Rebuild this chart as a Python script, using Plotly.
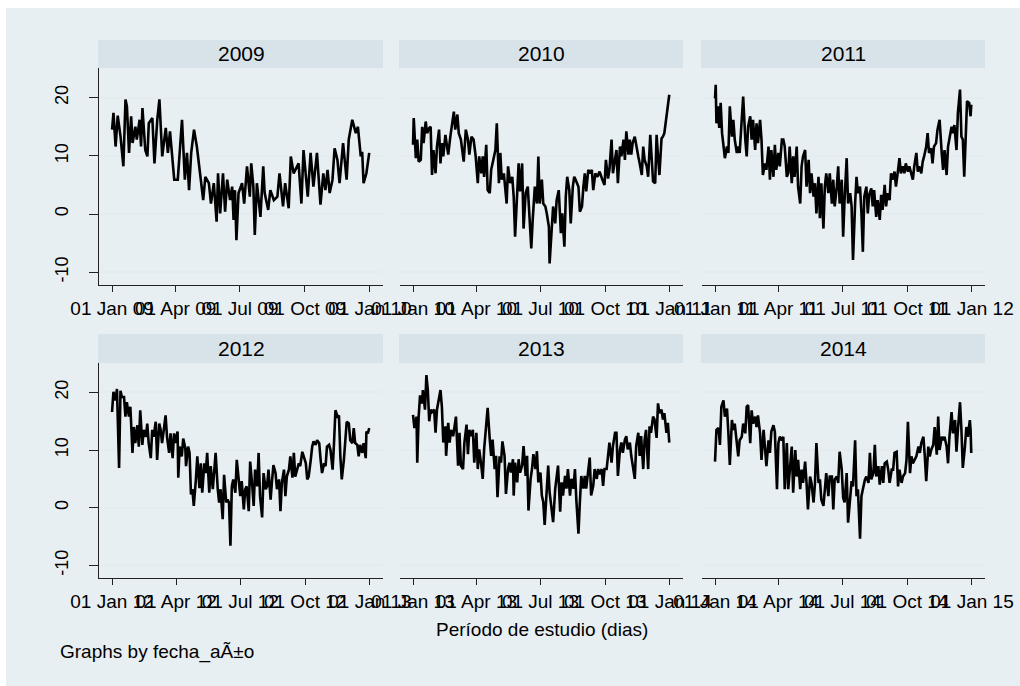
import plotly.graph_objects as go
import pandas as pd

# ---------------- data (day of year, temperature) ----------------
years = [2009, 2010, 2011, 2012, 2013, 2014]

s2009 = [(0,14.5),(2,17.4),(5,11.6),(8,16.9),(12,13.3),(14,10.5),(16,8.2),(19,19.7),(21,18.5),(24,10.5),
         (27,16.8),(29,12.2),(33,15),(35,12.8),(39,16.2),(41,11.6),(43,18.2),(47,11),(50,9.9),(52,15.6),
         (57,16.5),(60,8.7),(64,16.2),(67,19.7),(71,9.9),(76,14.8),(79,10.5),(82,14.2),(85,10.5),(88,5.9),
         (93,5.9),(99,16.2),(103,5.9),(106,10.5),(109,4.1),(112,10.5),(116,14.5),(120,11.6),(125,6.5),(129,2.4),
         (132,6.4),(137,5.3),(140,1.8),(144,5.3),(148,-1.3),(150,7),(153,0.1),(157,7),(160,0.4),(163,5.9),
         (167,2.4),(170,4.7),(172,-1),(174,4.1),(176,-4.5),(179,3.6),(184,5.3),(187,1.8),(191,8.2),(195,3),
         (197,8.7),(200,4.7),(202,-3.6),(205,5.3),(210,-0.5),(214,8.2),(216,3.6),(221,0.7),(224,4.1),(229,2.4),
         (234,3),(237,7),(242,1.3),(245,5.3),(250,1),(253,9.9),(257,7),(264,8.7),(268,1.8),(271,11),
         (277,3),(281,10.5),(285,4.7),(290,10.5),(295,1.6),(299,7),(302,4.1),(305,7.6),(308,3.6),(312,5.9),
         (315,11.3),(319,9.3),(322,5.3),(327,12.2),(332,5.9),(335,12.8),(340,16.2),(345,13.9),(348,15),(352,9.9),
         (354,10.7),(356,5.3),(360,7),(364,10.5)]

s2010 = [(0,11.9),(1,16.5),(4,9.6),(6,12.8),(8,9),(11,9.3),(13,15),(15,12.2),(18,15.9),(20,13.9),
         (23,14.8),(25,15),(27,6.7),(29,11),(32,7),(34,11.6),(37,14.5),(39,8.7),(41,12.2),(43,9.9),
         (46,13.6),(50,10.2),(53,13.3),(56,16.2),(58,17.6),(60,14.5),(63,17.1),(65,13.9),(68,12.8),(72,9),
         (75,14.5),(78,12.8),(80,10.2),(83,13.3),(86,12.8),(89,9.9),(92,5.3),(94,9.9),(97,7),(99,9.9),
         (101,6.4),(104,11.9),(106,4.1),(109,3.6),(111,7.6),(114,9.3),(117,11),(119,15.6),(122,5.3),(124,10.5),
         (126,5.9),(129,7),(131,4.7),(133,1.8),(135,8.2),(138,5.3),(141,6.4),(143,3),(145,-3.9),(148,4.7),
         (150,8.7),(152,3.9),(155,8.7),(157,-2.5),(160,3.6),(163,4.7),(165,0.1),(168,-5.9),(170,-1),(173,4.7),
         (176,1.8),(178,9.9),(180,1.8),(183,5.9),(185,1.8),(188,1.3),(190,0.1),(193,-2.2),(194,-8.5),(197,-2.8),
         (199,1.3),(202,-1.6),(204,2.4),(207,4.1),(210,-3.3),(212,0.1),(215,-5.6),(217,3),(219,6.4),(222,4.1),
         (224,-1.6),(227,4.7),(229,6.4),(231,5.9),(235,4.7),(237,0.4),(240,1.3),(242,4.7),(244,7),(246,3.9),
         (249,7.6),(252,7),(254,7.6),(256,4.1),(259,7),(262,6.4),(265,7.3),(269,5.9),(272,5),(274,9.3),
         (277,6.1),(279,7.6),(282,12.8),(284,7),(287,9.3),(289,11),(291,5.3),(294,11.6),(296,9.9),(299,12.8),
         (301,9.3),(303,14.2),(306,10.2),(308,12.8),(310,10.2),(312,12.2),(315,13.3),(317,11.6),(320,9.9),(322,8.7),
         (325,6.7),(327,11.6),(329,9.3),(332,8.2),(334,6.4),(337,13.6),(339,9.3),(341,5.6),(344,5.3),(346,13.6),
         (348,9.9),(350,6.7),(353,13),(355,13.3),(357,13.9),(359,15.6),(361,17.9),(364,20.5)]

s2011 = [(0,19.9),(1,22.2),(2,15.6),(4,18.5),(6,14.8),(8,19.1),(10,13.9),(12,12.2),(14,9.6),(17,11.6),
         (19,10.5),(21,18.5),(24,13.3),(26,16.2),(28,12.8),(31,10.5),(33,11.6),(35,10.5),(38,17.6),(40,20.2),
         (43,12.8),(45,9.9),(47,15),(50,16.8),(52,12.8),(54,16.2),(57,11),(59,15.6),(61,12.2),(64,16.2),
         (66,12.8),(68,6.7),(71,8.7),(73,7.6),(76,11.6),(78,5.9),(80,11),(83,6.4),(85,11.9),(87,7.6),
         (90,10.5),(92,8.2),(95,12.8),(97,12.8),(99,11.6),(102,6.4),(104,7),(106,11.6),(109,5.3),(111,9.9),
         (113,6.4),(116,11.6),(118,4.7),(121,1.8),(123,8.2),(125,9.9),(128,11),(130,4.7),(133,9.3),(135,3.6),
         (137,7),(140,3),(142,5.3),(144,0.1),(147,6.4),(149,-0.7),(151,5.3),(154,-2.5),(156,4.7),(158,7),
         (161,3.6),(163,7),(166,1.8),(168,5.9),(170,1.3),(173,4.7),(175,8.2),(177,1.8),(180,5.9),(182,-3.9),
         (184,2.4),(187,9.6),(189,1.8),(192,3.6),(194,1.3),(196,-7.9),(199,1.8),(201,6.4),(203,3.6),(206,4.7),
         (208,0.1),(210,-6.5),(212,3),(215,4.7),(217,0.1),(219,3.3),(222,4.4),(224,1.3),(226,4.1),(229,-0.5),
         (231,2.4),(234,-1),(236,3.3),(238,0.7),(241,5),(243,1.3),(245,3.6),(248,2.4),(250,7),(252,5.9),
         (255,7.3),(257,4.7),(260,7.6),(262,9.6),(264,7),(267,8.2),(269,7),(271,8.7),(274,7.3),(276,8.2),
         (278,7.3),(281,5.9),(283,8.2),(286,10.5),(288,7.3),(290,8.2),(293,7),(295,9),(297,9.9),(300,11.6),
         (302,13.9),(304,10.5),(307,11.3),(309,8.7),(311,11.6),(314,12.2),(316,14.5),(319,16.2),(322,10.5),(324,7.6),
         (326,11),(329,6.7),(331,11.6),(333,13.3),(336,15),(338,13.9),(340,15.3),(343,11),(345,17.4),(348,21.4),
         (350,13.3),(352,12.8),(354,6.4),(356,12.8),(358,19.4),(361,19.1),(363,16.8),(364,18.8)]

s2012 = [(0,16.6),(2,20.1),(5,18.6),(7,20.6),(10,6.9),(12,20.3),(14,19.2),(17,19.2),(19,15.8),(21,18.3),
         (24,15.8),(26,17.5),(29,9.5),(31,14),(33,11.2),(36,14.3),(38,10.6),(40,16.9),(43,10.9),(45,13.5),
         (48,12.3),(50,14.6),(52,11.2),(55,8.6),(57,13.5),(59,12.3),(62,14.9),(64,8.3),(67,14.6),(69,13.5),
         (71,11.2),(74,14),(76,16),(78,12.3),(81,9.5),(83,12.9),(86,8.6),(88,12.9),(90,11.2),(93,13.2),
         (94,5.2),(96,10.6),(99,8.9),(101,12),(104,10.3),(105,7.2),(108,10.6),(110,9.5),(112,2.3),(114,3.2),
         (116,0.3),(119,4.9),(121,8.9),(124,3.4),(126,7.7),(128,2.6),(131,7.7),(133,6),(135,9.5),(138,2.6),
         (140,7.2),(143,3.2),(145,6),(147,9.5),(150,3.2),(152,0.9),(154,3.2),(157,-2),(159,5.7),(162,0.9),
         (164,1.4),(166,0.9),(168,-6.6),(170,3.7),(172,4.9),(175,2.6),(177,8.3),(180,4.3),(182,2),(184,4.6),
         (187,-0.3),(189,3.2),(191,3.7),(194,-0.6),(196,8),(199,3.7),(201,0.3),(203,6.6),(206,3.7),(208,9.5),
         (210,2),(213,-1.7),(215,6),(218,3.2),(220,3.7),(222,6.6),(225,1.4),(227,4.6),(229,7.4),(232,6),
         (234,3.2),(237,4.9),(239,-0.6),(241,4.3),(244,6.6),(246,2),(248,5.4),(251,6.6),(253,8.9),(256,5.2),
         (258,9.5),(260,5.4),(263,6.6),(265,7.7),(267,7.2),(270,9.7),(272,8.9),(275,7.7),(277,4.9),(279,5.4),
         (282,8.3),(284,10.6),(286,11.5),(289,10.9),(291,11.7),(294,11.2),(296,8.3),(298,6),(301,7.7),(303,7.2),
         (305,10.6),(308,10.9),(310,10),(313,6.6),(315,11.2),(317,16.9),(320,15.8),(322,16),(324,8.9),(326,4.9),
         (329,8.3),(331,12.3),(333,14.9),(336,14.6),(338,11.7),(341,11.2),(343,13.8),(345,11.2),(348,10.9),(350,8.9),
         (352,10.9),(355,9.5),(357,11.2),(360,8.6),(361,13.2),(363,12.9),(365,13.8)]

s2013 = [(0,16.1),(2,13.8),(5,15.8),(6,7.8),(8,15.8),(10,19.5),(13,18.1),(14,20.4),(17,17),(19,23),
         (21,20.4),(23,15),(25,17),(27,16.6),(30,17),(32,13),(34,17),(36,18.4),(39,20.4),(41,17.5),
         (43,11.3),(46,14.1),(47,9),(50,14.7),(52,11.3),(54,13.5),(57,12.4),(59,14.1),(61,15.8),(64,7.3),
         (66,13),(68,7.3),(71,6.7),(73,11.3),(76,14.4),(78,9.3),(80,13.5),(83,12.4),(85,13.5),(87,7.8),
         (90,13),(92,6.7),(94,10.1),(97,7.3),(99,5),(101,10.1),(104,14.1),(106,17.3),(109,11.8),(111,9),
         (113,11.8),(116,6.7),(118,9),(120,1.8),(123,8.9),(125,7.8),(127,11.5),(130,9),(132,2.4),(135,6.7),
         (137,7.8),(139,6.1),(142,8.4),(143,2.1),(145,7.8),(148,4.4),(150,8.4),(152,6.1),(155,7.3),(157,10.7),
         (160,5.5),(162,9),(164,-0.5),(167,5),(169,6.7),(171,9.3),(174,6.7),(176,9.8),(178,4.4),(181,6.1),
         (183,2.1),(185,1),(187,-3),(190,3.8),(192,7.3),(194,2.7),(197,-0.2),(199,-2.5),(202,3.3),(204,5.5),
         (206,7.3),(209,-0.7),(211,4.4),(213,2.1),(216,5.5),(218,3.3),(220,6.7),(223,2.1),(225,5),(228,3.3),
         (230,6.7),(232,1.3),(235,-4.5),(237,1),(239,5.5),(242,3.3),(244,5.5),(246,3.3),(249,6.1),(251,8.7),
         (253,2.1),(256,3.8),(258,6.7),(261,5),(263,6.7),(265,5.8),(268,6.7),(270,3.8),(272,6.7),(275,6.7),
         (277,9),(279,11.3),(282,7.8),(284,10.7),(287,13),(289,13),(291,5.5),(294,10.1),(296,11.3),(298,9.5),
         (301,11.8),(303,12.4),(305,10.1),(308,11.3),(310,9),(312,7.3),(315,5),(317,10.7),(320,13),(322,9),
         (324,12.4),(327,6.7),(329,11.8),(331,13.5),(334,6.7),(336,14.1),(338,13),(341,15.8),(343,15.3),(346,12.1),
         (348,18.1),(350,16.4),(353,17),(355,15.3),(357,16.4),(360,13),(362,14.7),(364,11.3)]

s2014 = [(0,8),(2,13.5),(5,13.8),(7,10.9),(9,17.5),(12,18.6),(14,15.8),(17,17.2),(19,12.9),(21,7.4),
         (24,15.2),(26,13.5),(28,14.6),(31,11.2),(33,8.9),(35,11.7),(38,12.3),(40,14.6),(43,12.9),(45,17.5),
         (47,17.8),(50,11.2),(52,16.9),(54,14.6),(57,15.8),(59,14),(61,16),(64,12.9),(66,8.3),(69,13.5),
         (71,10),(73,7.2),(76,11.7),(78,9.5),(80,13.2),(83,14.3),(85,13.2),(88,3.2),(90,11.2),(92,12.3),
         (95,11.7),(97,12.3),(99,3.2),(102,11.2),(104,3.2),(106,6.6),(109,10.6),(111,2.6),(114,10),(116,5.4),
         (118,8.3),(121,3.2),(123,6.6),(125,4.3),(128,8),(130,4.3),(132,-0.3),(135,5.4),(137,4.3),(140,0.9),
         (142,4.3),(144,11.2),(147,4.3),(149,4.9),(151,1.4),(154,0.3),(156,3.2),(158,6),(161,2),(163,5.4),
         (166,5.4),(168,-0.3),(170,4.9),(173,5.4),(175,4.3),(177,9.7),(180,6.6),(182,1.7),(184,0.9),(187,6),
         (189,-2.6),(192,2.6),(194,4.6),(196,3.7),(199,11.7),(201,2),(203,3.2),(206,-5.4),(208,2),(210,3.2),
         (213,4.9),(215,5.4),(218,4.3),(220,9.5),(222,4.9),(225,6),(227,10.9),(229,5.4),(232,7.2),(234,4),
         (237,7.2),(239,4.3),(241,7.7),(244,8),(246,6.6),(248,4.3),(251,6.6),(253,6.6),(255,9.5),(258,9.7),
         (260,3.7),(262,6.6),(265,4.3),(267,5.4),(270,6),(272,8.3),(274,14.9),(277,6),(279,8.9),(281,7.7),
         (284,8.3),(286,8.9),(289,10.6),(291,9.5),(293,11.2),(296,12.3),(298,8.9),(300,4.6),(303,10.6),(305,8.9),
         (307,10),(310,10.9),(312,14),(315,9.2),(317,15.8),(319,10),(322,12.3),(324,11.7),(326,12.3),(329,10.6),
         (331,7.7),(333,12.3),(336,16.6),(338,12.9),(341,15.2),(343,9.7),(345,13.5),(348,18.3),(350,13.5),(352,6.9),
         (355,10.6),(357,14),(359,12.3),(362,15.2),(363,13.5),(364,9.5)]

series = [s2009, s2010, s2011, s2012, s2013, s2014]

y_ticks = [-10, 0, 10, 20]
y_range = [-12.2, 25.1]
month_starts = ["01-01", "04-01", "07-01", "10-01"]
month_names = ["Jan", "Apr", "Jul", "Oct"]

# ---------------- layout geometry (pixels) ----------------
W, H = 1020, 686
FONT = "Liberation Sans, Arial, sans-serif"
BG = "#e8eff2"
STRIP = "#d8e3e9"
GRID = "#e4ecef"

col_x = [(99, 383), (400, 683), (702, 985)]
row_y = [(68, 285), (363, 578)]
strip_y = [(40, 68), (334, 363)]


def fx(p):
    return p / W


def fy(p):
    return 1 - p / H


fig = go.Figure()
shapes = [dict(type="rect", xref="paper", yref="paper", x0=fx(6), x1=1, y0=0, y1=fy(8),
               fillcolor=BG, line=dict(width=0), layer="below")]
annotations = []
layout = {}

for i, (yr, s) in enumerate(zip(years, series)):
    r, c = divmod(i, 3)
    n = i + 1
    sfx = "" if n == 1 else str(n)
    days = [d for d, _ in s]
    vals = [v for _, v in s]
    start = pd.Timestamp(f"{yr}-01-01")
    xs = [start + pd.Timedelta(days=d) for d in days]
    fig.add_trace(go.Scatter(x=xs, y=vals, mode="lines", xaxis="x" + sfx, yaxis="y" + sfx,
                             line=dict(color="black", width=2.6), showlegend=False,
                             hoverinfo="skip"))
    nxt = pd.Timestamp(f"{yr + 1}-01-01")
    tickvals = [pd.Timestamp(f"{yr}-{m}") for m in month_starts] + [nxt]
    ticktext = [f"01 {mn} {str(yr)[2:]}" for mn in month_names] + [f"01 Jan {str(yr + 1)[2:]}"]
    x0, x1 = col_x[c]
    y0, y1 = row_y[r]
    layout["xaxis" + sfx] = dict(
        domain=[fx(x0), fx(x1)], anchor="y" + sfx, type="date", automargin=False,
        range=[start - pd.Timedelta(days=18.5), nxt + pd.Timedelta(days=18.5)],
        tickmode="array", tickvals=tickvals, ticktext=ticktext, tickangle=0,
        ticks="outside", ticklen=6, tickcolor="#222", tickwidth=1,
        showline=True, linecolor="#222", linewidth=1, showgrid=False, zeroline=False,
        tickfont=dict(family=FONT, size=19, color="black"), fixedrange=True)
    layout["yaxis" + sfx] = dict(
        domain=[fy(y1), fy(y0)], anchor="x" + sfx, range=y_range, automargin=False,
        tickmode="array", tickvals=y_ticks, ticktext=[str(t) for t in y_ticks],
        showgrid=True, gridcolor=GRID, gridwidth=1.5, zeroline=False,
        showline=(c == 0), linecolor="#222", linewidth=1,
        ticks="outside" if c == 0 else "", ticklen=9, tickcolor="#222",
        showticklabels=(c == 0), tickangle=-90, ticklabelstandoff=14,
        tickfont=dict(family=FONT, size=18, color="black"), fixedrange=True)
    sy0, sy1 = strip_y[r]
    shapes.append(dict(type="rect", xref="paper", yref="paper",
                       x0=fx(x0 - 1), x1=fx(x1), y0=fy(sy1), y1=fy(sy0),
                       fillcolor=STRIP, line=dict(width=0), layer="below"))
    annotations.append(dict(text=str(yr), xref="paper", yref="paper",
                            x=fx((x0 + x1) / 2), y=fy((sy0 + sy1) / 2),
                            xanchor="center", yanchor="middle", showarrow=False,
                            font=dict(family=FONT, size=21, color="black")))

annotations.append(dict(text="Período de estudio (dias)", xref="paper", yref="paper",
                        x=fx(542), y=fy(629), xanchor="center", yanchor="middle",
                        showarrow=False, font=dict(family=FONT, size=19, color="black")))
annotations.append(dict(text="Graphs by fecha_aÃ±o", xref="paper", yref="paper",
                        x=fx(58), y=fy(652), xanchor="left", yanchor="middle",
                        showarrow=False, font=dict(family=FONT, size=19, color="black")))

fig.update_layout(width=W, height=H, margin=dict(l=0, r=0, t=0, b=0, autoexpand=False),
                  paper_bgcolor="white", plot_bgcolor="white",
                  shapes=shapes, annotations=annotations, **layout)

fig.write_html("out.html")
